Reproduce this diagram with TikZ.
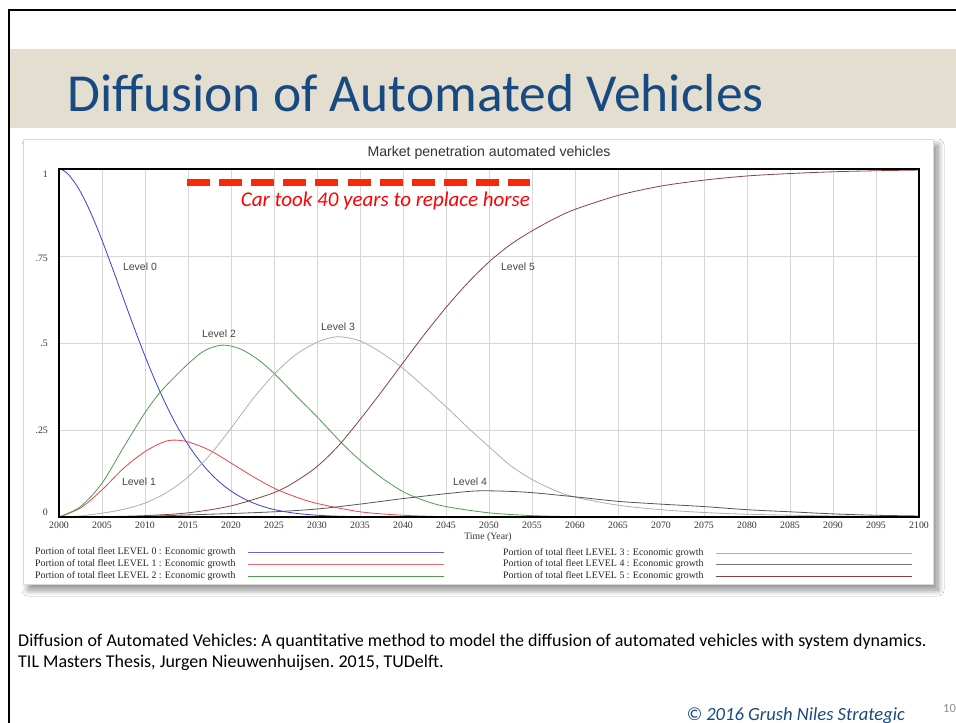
\documentclass[tikz,border=0pt]{standalone}
\usepackage{fontspec}
\setmainfont{Carlito}
\newfontfamily\arialf{Liberation Sans}
\newfontfamily\timesf{Liberation Serif}
\usetikzlibrary{shadows.blur}

\definecolor{titleblue}{RGB}{24,74,130}
\definecolor{bandbeige}{RGB}{227,222,207}
\definecolor{gridgray}{RGB}{215,215,215}
\definecolor{lvlzero}{RGB}{60,60,215}
\definecolor{lvlone}{RGB}{230,70,70}
\definecolor{lvltwo}{RGB}{80,155,80}
\definecolor{lvlthree}{RGB}{175,175,175}
\definecolor{lvlfour}{RGB}{85,85,85}
\definecolor{lvlfive}{RGB}{140,65,65}
\definecolor{dashred}{RGB}{250,40,10}
\definecolor{labelgray}{RGB}{70,70,70}

\tikzset{
  curve/.style={line width=0.8pt, line join=round},
  gridline/.style={gridgray, line width=0.6pt},
  ticklabel/.style={font=\timesf\fontsize{9.8}{10}\selectfont, text=black!80, inner sep=0pt},
  levellabel/.style={font=\arialf\fontsize{10.5}{12}\selectfont, text=labelgray, inner sep=0pt},
  legendtext/.style={font=\timesf\fontsize{9.9}{10}\selectfont, text=black!85, anchor=west, inner sep=0pt},
  legendline/.style={line width=0.9pt},
  horsedash/.style={dashred, line width=7pt, dash pattern=on 23pt off 9.1pt},
  sourcetext/.style={anchor=base west, inner sep=0pt, font=\frenchspacing\fontsize{18}{21}\selectfont},
}

\begin{document}
\begin{tikzpicture}[x=1pt, y=-1pt]
\useasboundingbox (0,0) rectangle (956,723);
\fill[white] (0,0) rectangle (956,723);

% slide frame and title band
\draw[black, line width=2pt] (9,723) -- (9,10) -- (956,10);
\fill[bandbeige] (10,49) rectangle (956,128);
\node[anchor=base west, inner sep=0pt, text=titleblue,
      font=\fontsize{53.5}{60}\selectfont] (title) at (67,111) {Diffusion of Automated Vehicles};

% chart panel with soft shadow
\path[fill=white, draw=black!15, line width=0.5pt,
      blur shadow={shadow xshift=5pt, shadow yshift=-6pt, shadow blur radius=6pt, shadow blur steps=12, shadow opacity=45}]
  (23,139) rectangle (933,584);

\node[font=\arialf\fontsize{14.1}{16}\selectfont, text=black!80, inner sep=0pt] (charttitle) at (489,153) {Market penetration automated vehicles};

% grid
\foreach \k in {1,...,19} {
  \draw[gridline] ({59+43*\k},169) -- ({59+43*\k},517);
}
\foreach \yy in {256,343,430} {
  \draw[gridline] (59,\yy) -- (919,\yy);
}

% axis labels
\node[ticklabel, anchor=east] (y100) at (48,174) {1};
\node[ticklabel, anchor=east] (y075) at (48,258) {.75};
\node[ticklabel, anchor=east] (y050) at (48,343) {.5};
\node[ticklabel, anchor=east] (y025) at (48,430) {.25};
\node[ticklabel, anchor=east] (y000) at (48,512) {0};
\foreach \k in {0,...,20} {
  \pgfmathtruncatemacro{\yr}{2000+5*\k}
  \node[ticklabel] (x\k) at ({59+43*\k},525) {\yr};
}
\node[ticklabel] (timelabel) at (488,537) {Time (Year)};

% curves, in (year offset, share) coordinates
\begin{scope}[shift={(59,517)}, x=8.6pt, y=348pt]
  % Level 0
  \draw[curve, lvlzero] (0,1) -- plot[domain=0.25:42, samples=170] (\x,{exp(-((\x/11.6)^1.75))}) -- (100,0);
  % Level 1
  \draw[curve, lvlone] plot[smooth] coordinates {
    (0,0) (2.5,0.026) (5,0.078) (7.5,0.14) (10,0.188) (12,0.214) (13.2,0.221)
    (15,0.216) (17.5,0.192) (20,0.155) (22.5,0.117) (25,0.083) (27.5,0.058)
    (30,0.039) (35,0.015) (40,0.005) (45,0.001) (50,0)} -- (100,0);
  % Level 2
  \draw[curve, lvltwo] plot[smooth] coordinates {
    (0,0) (2.5,0.03) (5,0.097) (7.5,0.2) (10,0.3) (12,0.365) (15,0.44)
    (17,0.479) (19,0.494) (21,0.484) (23,0.455) (25,0.413) (27.5,0.35)
    (30,0.288) (32.9,0.212) (35,0.163) (37.5,0.113) (40,0.073) (42.5,0.047)
    (45,0.03) (50,0.012) (55,0.004) (60,0.001) (65,0)} -- (100,0);
  % Level 3
  \draw[curve, lvlthree] plot[smooth] coordinates {
    (0,0) (2.5,0.003) (5,0.011) (7.5,0.022) (10,0.04) (12.5,0.07) (15,0.115)
    (17.5,0.177) (20,0.255) (22.5,0.338) (25,0.41) (27.5,0.466) (30,0.502)
    (32.4,0.518) (35,0.506) (37.5,0.472) (40,0.427) (42.5,0.373) (45,0.317)
    (47.5,0.258) (50,0.202) (52.5,0.148) (55,0.108) (57.5,0.078) (60,0.057)
    (65,0.034) (70,0.021) (75,0.013) (80,0.008) (90,0.003) (100,0.001)};
  % Level 4
  \draw[curve, lvlfour] plot[smooth] coordinates {
    (0,0) (5,0.001) (10,0.002) (15,0.006) (20,0.01) (25,0.015) (30,0.023)
    (35,0.037) (40,0.053) (45,0.067) (48.6,0.075) (52,0.074) (55,0.07)
    (60,0.058) (65,0.045) (70,0.037) (75,0.03) (80,0.021) (85,0.015)
    (90,0.009) (95,0.005) (100,0.003)};
  % Level 5
  \draw[curve, lvlfive] plot[smooth] coordinates {
    (0,0) (5,0.001) (10,0.004) (15,0.012) (20,0.032) (25,0.07) (27.5,0.102)
    (30,0.145) (32.5,0.205) (35,0.28) (37.5,0.36) (40,0.443) (42.5,0.525)
    (45,0.602) (47.5,0.672) (50,0.733) (52.5,0.783) (55,0.822) (57.5,0.856)
    (60,0.884) (65,0.924) (70,0.951) (75,0.968) (80,0.98) (85,0.987)
    (90,0.992) (95,0.995) (100,0.997)};
\end{scope}

% plot frame
\draw[black, line width=1.3pt] (59,169) rectangle (919,517);

% curve labels
\node[levellabel] (lab0) at (140,267) {Level 0};
\node[levellabel] (lab1) at (139,482) {Level 1};
\node[levellabel] (lab2) at (219,334) {Level 2};
\node[levellabel] (lab3) at (338,327) {Level 3};
\node[levellabel] (lab4) at (470,482) {Level 4};
\node[levellabel] (lab5) at (518,267) {Level 5};

% horse-replacement marker
\coordinate (dashA) at (187,182);
\coordinate (dashB) at (530,182);
\draw[horsedash] (dashA) -- (dashB);
\node[anchor=east, inner sep=0pt, text=red, font=\itshape\fontsize{21}{24}\selectfont] (horse) at (530,201) {Car took 40 years to replace horse};

% legend
\node[legendtext] (leg0) at (35,552) {Portion of total fleet LEVEL 0 : Economic growth};
\node[legendtext] (leg1) at (35,564) {Portion of total fleet LEVEL 1 : Economic growth};
\node[legendtext] (leg2) at (35,576) {Portion of total fleet LEVEL 2 : Economic growth};
\node[legendtext] (leg3) at (503,553) {Portion of total fleet LEVEL 3 : Economic growth};
\node[legendtext] (leg4) at (503,564) {Portion of total fleet LEVEL 4 : Economic growth};
\node[legendtext] (leg5) at (503,576) {Portion of total fleet LEVEL 5 : Economic growth};
\draw[legendline, lvlzero!80] (248,552) -- (444,552);
\draw[legendline, lvlone!80] (248,564) -- (444,564);
\draw[legendline, lvltwo] (248,576) -- (444,576);
\draw[legendline, lvlthree] (716,553) -- (912,553);
\draw[legendline, lvlfour!80] (716,564) -- (912,564);
\draw[legendline, lvlfive] (716,576) -- (912,576);

% source and footer
\node[sourcetext] (src1) at (18,646)
  {Diffusion of Automated Vehicles: A quantitative method to model the diffusion of automated vehicles with system dynamics.};
\node[sourcetext] (src2) at (18,667)
  {TIL Masters Thesis, Jurgen Nieuwenhuijsen. 2015, TUDelft.};
\node[anchor=base east, inner sep=0pt, text=titleblue, font=\itshape\fontsize{18.6}{21}\selectfont] (copy) at (905,720)
  {© 2016 Grush Niles Strategic};
\node[anchor=base west, inner sep=0pt, text=black!45, font=\fontsize{12.5}{14}\selectfont] (pagenum) at (943,712) {10};
\end{tikzpicture}
\end{document}
